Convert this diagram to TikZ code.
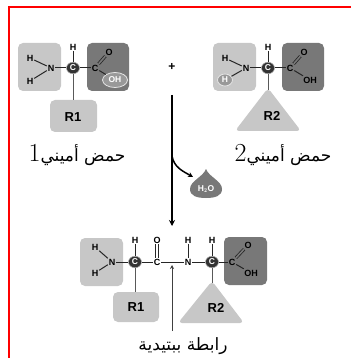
\documentclass[tikz,border=0pt]{standalone}
\usepackage{fontspec}
\setsansfont{Liberation Sans}
\newfontfamily\arabicfont[Script=Arabic]{DejaVu Sans}
\TeXXeTstate=1
\usetikzlibrary{arrows.meta,shapes.geometric}

\begin{document}
\begin{tikzpicture}[x=1pt,y=-1pt,
  atom/.style={font=\sffamily\bfseries\fontsize{9}{10}\selectfont, inner sep=0.8pt},
  calpha/.style={ellipse, fill=black!80, draw=black!35, line width=0.5pt, text=white,
    inner sep=0pt, minimum width=13pt, minimum height=11.5pt,
    font=\sffamily\bfseries\fontsize{8.5}{9}\selectfont},
  ring/.style={ellipse, fill=black!40, draw=black!10, line width=0.8pt, text=white,
    inner sep=0.6pt, font=\sffamily\bfseries\fontsize{8.5}{9}\selectfont},
  bond/.style={black!85, line width=1pt},
  dbond/.style={black!85, line width=0.8pt, double=#1, double distance=1.6pt},
  stem/.style={black!65, line width=1pt},
  amine/.style={fill=black!22, rounded corners=5pt},
  carboxyl/.style={fill=black!53, rounded corners=5pt},
  rgroup/.style={fill=black!22, rounded corners=5pt},
  rlabel/.style={font=\sffamily\bfseries\fontsize{13}{13}\selectfont},
  arname/.style={font=\fontsize{17}{18}\selectfont, inner sep=0pt}
]
\useasboundingbox (0,0) rectangle (351,358);

% frame
\draw[red, line width=1.5pt] (9,358) -- (9,7) -- (351,7);

%%%% amino acid 1
\fill[amine] (18,43) rectangle (61,91);
\fill[carboxyl] (87,43) rectangle (129,91);
\fill[rgroup] (50,100) rectangle (97,132);
\node[rlabel] (r1a) at (73,117) {R1};

\node[atom] (h1a) at (30,58) {H};
\node[atom] (h1b) at (30,81) {H};
\node[atom] (n1) at (51,68) {N};
\node[calpha] (ca1) at (73,68) {C};
\node[atom] (ht1) at (73,47) {H};
\node[atom] (cc1) at (95,68) {C};
\node[atom] (o1) at (109,52) {O};
\node[ring, minimum width=25pt, minimum height=15pt] (oh1) at (115,80) {OH};

\draw[bond] (h1a) -- (n1);
\draw[bond] (h1b) -- (n1);
\draw[bond] (n1) -- (ca1) -- (cc1);
\draw[bond] (ht1) -- (ca1);
\draw[dbond=black!53] (cc1) -- (o1);
\draw[bond] (cc1) -- (oh1);
\draw[stem] (ca1) -- (73,100);

\node[arname] (lab1) at (77,155) {\beginR{\arabicfont حمض أميني}{\fontsize{26}{26}\selectfont 1}\endR};

\node[font=\sffamily\bfseries\fontsize{12}{12}\selectfont] (plus) at (172,67) {+};

%%%% amino acid 2
\fill[amine] (213,43) rectangle (256,91);
\fill[carboxyl] (282,43) rectangle (324,91);
\fill[black!22, rounded corners=4pt] (268,88) -- (301,131) -- (235,131) -- cycle;
\node[rlabel] (r2a) at (272,116) {R2};

\node[atom] (h2a) at (225,58) {H};
\node[ring, minimum width=15pt, minimum height=12pt] (h2b) at (225,80) {H};
\node[atom] (n2) at (246,68) {N};
\node[calpha] (ca2) at (268,68) {C};
\node[atom] (ht2) at (268,47) {H};
\node[atom] (cc2) at (290,68) {C};
\node[atom] (o2) at (304,52) {O};
\node[atom] (oh2) at (310,80) {OH};

\draw[bond] (h2a) -- (n2);
\draw[bond] (h2b) -- (n2);
\draw[bond] (n2) -- (ca2) -- (cc2);
\draw[bond] (ht2) -- (ca2);
\draw[dbond=black!53] (cc2) -- (o2);
\draw[bond] (cc2) -- (oh2);
\draw[stem] (ca2) -- (268,90);

\node[arname] (lab2) at (283,155) {\beginR{\arabicfont حمض أميني}{\fontsize{26}{26}\selectfont 2}\endR};

%%%% condensation
\coordinate (top) at (172,95);
\coordinate (split) at (172,156);
\coordinate (bot) at (172,226);
\draw[line width=1.8pt, -{Stealth[length=6pt,width=6pt]}] (top) -- (bot);
\draw[line width=1.5pt, -{Stealth[length=5pt,width=5pt]}] (split) to[out=-80, in=150] (193,177);

% water drop
\fill[black!53] (206,169) .. controls (209,177) and (222,181) .. (222,189)
  .. controls (222,196) and (215,198) .. (206,198)
  .. controls (197,198) and (190,196) .. (190,189)
  .. controls (190,181) and (203,177) .. (206,169) -- cycle;
\node[text=white, font=\sffamily\bfseries\fontsize{8.5}{9}\selectfont] (water) at (206,189) {H$_{\mathbf 2}$O};

%%%% dipeptide
\fill[amine] (80,238) rectangle (123,286);
\fill[carboxyl] (224,237) rectangle (267,285);
\fill[rgroup] (113,292) rectangle (159,322);
\node[rlabel] (r1b) at (136,307) {R1};
\fill[black!22, rounded corners=4pt] (212,281) -- (244,323) -- (178,323) -- cycle;
\node[rlabel] (r2b) at (216,308) {R2};

\node[atom] (h3a) at (95,247) {H};
\node[atom] (h3b) at (95,273) {H};
\node[atom] (n3) at (112,262) {N};
\node[calpha] (ca3) at (135,262) {C};
\node[atom] (ht3) at (135,240) {H};
\node[atom] (ck) at (157,262) {C};
\node[atom] (ok) at (157,240) {O};
\node[atom] (n4) at (188,262) {N};
\node[atom] (hn4) at (188,240) {H};
\node[calpha] (ca4) at (212,262) {C};
\node[atom] (ht4) at (212,240) {H};
\node[atom] (cc4) at (232,262) {C};
\node[atom] (o4) at (248,245) {O};
\node[atom] (oh4) at (251,273) {OH};

\draw[bond] (h3a) -- (n3);
\draw[bond] (h3b) -- (n3);
\draw[bond] (n3) -- (ca3) -- (ck) -- (n4) -- (ca4) -- (cc4);
\draw[bond] (ht3) -- (ca3);
\draw[dbond=white] (ck) -- (ok);
\draw[bond] (hn4) -- (n4);
\draw[bond] (ht4) -- (ca4);
\draw[dbond=black!53] (cc4) -- (o4);
\draw[bond] (cc4) -- (oh4);
\draw[stem] (ca3) -- (135,292);
\draw[stem] (ca4) -- (212,283);

% peptide bond pointer
\coordinate (pb) at (172,265);
\draw[black!75, line width=1pt, -{Stealth[length=4pt,width=4pt]}] (172,331) -- (pb);

\node[arname] (lab3) at (183,346) {\arabicfont\beginR رابطة ببتيدية\endR};
\end{tikzpicture}
\end{document}
